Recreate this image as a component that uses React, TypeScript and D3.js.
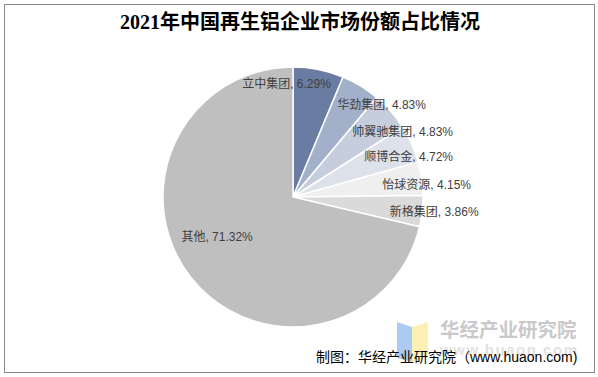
import React from "react";
import * as d3 from "d3";

const categories = ["立中集团", "华劲集团", "帅翼驰集团", "顺博合金", "怡球资源", "新格集团", "其他"];
const values = [6.29, 4.83, 4.83, 4.72, 4.15, 3.86, 71.32];
const colors = ["#6a7ca2", "#a3b0ca", "#c6cddd", "#dde1ea", "#efefef", "#dadada", "#bfbfbf"];
// label nudges relative to each slice's outer-arc midpoint
const labelNudges: [number, number][] = [
  [-32, 14.5], [21, 19], [12, 21], [-3, 13], [5, 6], [12, 1], [26, -41],
];

const W = 598;
const H = 377;
const cx = 293;
const cy = 197;
const R = 130;

export default function App() {
  const pie = d3.pie<number>().sort(null).value((d) => d);
  const arcs = pie(values);
  const arc = d3.arc<d3.PieArcDatum<number>>().innerRadius(0).outerRadius(R);
  const outerArc = d3.arc<d3.PieArcDatum<number>>().innerRadius(R).outerRadius(R);
  const latin = "'Liberation Sans', Arial, 'Noto Sans CJK SC', sans-serif";

  return (
    <svg
      width={W}
      height={H}
      style={{ position: "absolute", left: 0, top: 0, background: "#fff" }}
    >
      <rect x={0} y={0} width={W} height={H} fill="#fff" />
      <rect x={4.5} y={4.5} width={590} height={368} fill="none" stroke="#8a8a8a" strokeWidth={1} />
      <text
        x={300}
        y={29}
        textAnchor="middle"
        fontFamily="'Liberation Serif', 'Times New Roman', 'Noto Sans CJK SC', serif"
        fontSize={20}
        fontWeight={600}
        fill="#000"
      >
        2021年中国再生铝企业市场份额占比情况
      </text>
      <g transform={`translate(${cx},${cy})`}>
        {arcs.map((a, i) => (
          <path key={i} d={arc(a) || ""} fill={colors[i]} stroke="#fff" strokeWidth={1.5} />
        ))}
        {arcs.map((a, i) => {
          const [ox, oy] = outerArc.centroid(a);
          const [nx, ny] = labelNudges[i];
          return (
            <text
              key={"l" + i}
              x={ox + nx}
              y={oy + ny}
              textAnchor="middle"
              dominantBaseline="central"
              fontFamily={latin}
              fontSize={12}
              fill="#404040"
            >
              {`${categories[i]}, ${values[i].toFixed(2)}%`}
            </text>
          );
        })}
      </g>
      {/* watermark */}
      <polygon points="397,322 412,327 412,362 397,358" fill="#abcbf3" />
      <polygon points="412,327 428,322 428,358 412,362" fill="#fcf0b4" />
      <text
        x={440}
        y={337}
        fontFamily={latin}
        fontSize={19.5}
        fontWeight={700}
        fill="#c9c9c9"
      >
        华经产业研究院
      </text>
      <text x={440} y={355} fontFamily={latin} fontSize={15} fontWeight={700} fill="#e2e2e2" textLength={137}>
        www.huaon.com
      </text>
      <text x={316} y={362} fontFamily={latin} fontSize={14} fill="#000">
        制图：华经产业研究院（www.huaon.com)
      </text>
    </svg>
  );
}
